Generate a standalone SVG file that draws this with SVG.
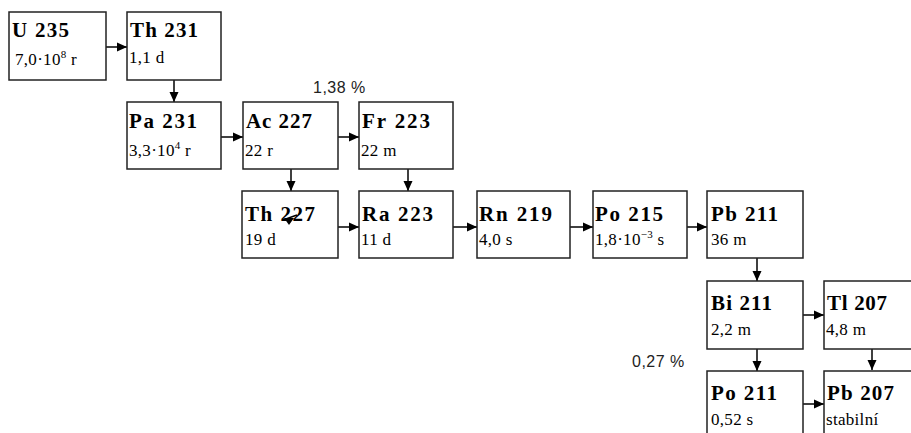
<svg xmlns="http://www.w3.org/2000/svg" width="911" height="433" viewBox="0 0 911 433">
<style>
.box{fill:#fff;stroke:#222;stroke-width:1.5}
.t{font-family:"Liberation Serif",serif;font-weight:bold;font-size:21px;fill:#000}
.s{font-family:"Liberation Serif",serif;font-size:17px;letter-spacing:0.3px;fill:#000}
.sup{font-size:11px}
.p{font-family:"Liberation Sans",Arial,sans-serif;font-size:16px;letter-spacing:0.5px;fill:#222}
.c{stroke:#000;stroke-width:1.5;fill:none}
</style>
<defs>
<marker id="ah" markerUnits="userSpaceOnUse" markerWidth="11" markerHeight="11" refX="10" refY="5.5" orient="auto">
<path d="M0,1 L10,5.5 L0,10 Z" fill="#000"/>
</marker>
</defs>
<rect width="911" height="433" fill="#fff"/>
<g id="connectors">
<line class="c" x1="106" y1="47" x2="127" y2="47" marker-end="url(#ah)"/>
<line class="c" x1="174" y1="80" x2="174" y2="102" marker-end="url(#ah)"/>
<line class="c" x1="221" y1="137" x2="243" y2="137" marker-end="url(#ah)"/>
<line class="c" x1="338" y1="137" x2="359" y2="137" marker-end="url(#ah)"/>
<line class="c" x1="291" y1="169" x2="291" y2="191" marker-end="url(#ah)"/>
<line class="c" x1="408" y1="169" x2="408" y2="191" marker-end="url(#ah)"/>
<line class="c" x1="338" y1="227" x2="359" y2="227" marker-end="url(#ah)"/>
<line class="c" x1="453" y1="227" x2="477" y2="227" marker-end="url(#ah)"/>
<line class="c" x1="570" y1="227" x2="593" y2="227" marker-end="url(#ah)"/>
<line class="c" x1="687" y1="227" x2="707" y2="227" marker-end="url(#ah)"/>
<line class="c" x1="757" y1="258" x2="757" y2="281" marker-end="url(#ah)"/>
<line class="c" x1="803" y1="315" x2="824" y2="315" marker-end="url(#ah)"/>
<line class="c" x1="757" y1="349" x2="757" y2="371" marker-end="url(#ah)"/>
<line class="c" x1="872" y1="349" x2="872" y2="370" marker-end="url(#ah)"/>
<line class="c" x1="803" y1="404" x2="824" y2="404" marker-end="url(#ah)"/>
</g>
<g id="U235"><rect class="box" x="9" y="12" width="97" height="68"/><text class="t" x="12" y="37" textLength="57">U 235</text><text class="s" x="15" y="65">7,0·10<tspan class="sup" dy="-7">8</tspan><tspan dy="7"> r</tspan></text></g>
<g id="Th231"><rect class="box" x="127" y="12" width="94" height="68"/><text class="t" x="130" y="37" textLength="68">Th 231</text><text class="s" x="129" y="63">1,1 d</text></g>
<g id="Pa231"><rect class="box" x="127" y="102" width="94" height="67"/><text class="t" x="129" y="128" textLength="68">Pa 231</text><text class="s" x="129" y="156">3,3·10<tspan class="sup" dy="-7">4</tspan><tspan dy="7"> r</tspan></text></g>
<g id="Ac227"><rect class="box" x="243" y="102" width="95" height="67"/><text class="t" x="246" y="128" textLength="66">Ac 227</text><text class="s" x="245" y="156">22 r</text></g>
<g id="Fr223"><rect class="box" x="359" y="102" width="94" height="67"/><text class="t" x="362" y="128" textLength="68">Fr 223</text><text class="s" x="361" y="156">22 m</text></g>
<text class="p" x="313" y="93">1,38 %</text>
<g id="Th227"><rect class="box" x="242" y="191" width="96" height="67"/><text class="t" x="245" y="221" textLength="70">Th 227</text><text class="s" x="245" y="245">19 d</text>
<line x1="297" y1="215" x2="283" y2="220" stroke="#000" stroke-width="1.5"/><path d="M284,218 L294,218 L289,225 Z" fill="#000"/></g>
<g id="Ra223"><rect class="box" x="359" y="191" width="94" height="67"/><text class="t" x="362" y="221" textLength="71">Ra 223</text><text class="s" x="361" y="245">11 d</text></g>
<g id="Rn219"><rect class="box" x="477" y="191" width="93" height="67"/><text class="t" x="479" y="221" textLength="73">Rn 219</text><text class="s" x="479" y="245">4,0 s</text></g>
<g id="Po215"><rect class="box" x="593" y="191" width="94" height="67"/><text class="t" x="595" y="221" textLength="68">Po 215</text><text class="s" x="595" y="245">1,8·10<tspan class="sup" dy="-7">−3</tspan><tspan dy="7"> s</tspan></text></g>
<g id="Pb211"><rect class="box" x="707" y="191" width="96" height="67"/><text class="t" x="711" y="221" textLength="67">Pb 211</text><text class="s" x="711" y="245">36 m</text></g>
<g id="Bi211"><rect class="box" x="707" y="281" width="96" height="68"/><text class="t" x="711" y="310" textLength="61">Bi 211</text><text class="s" x="711" y="335">2,2 m</text></g>
<g id="Tl207"><rect class="box" x="824" y="281" width="100" height="68"/><text class="t" x="827" y="310" textLength="60">Tl 207</text><text class="s" x="826" y="335">4,8 m</text></g>
<text class="p" x="632" y="367">0,27 %</text>
<g id="Po211"><rect class="box" x="707" y="371" width="96" height="70"/><text class="t" x="711" y="400" textLength="66">Po 211</text><text class="s" x="711" y="425">0,52 s</text></g>
<g id="Pb207"><rect class="box" x="824" y="371" width="100" height="70"/><text class="t" x="827" y="400" textLength="67">Pb 207</text><text class="s" x="826" y="425">stabilní</text></g>
</svg>
